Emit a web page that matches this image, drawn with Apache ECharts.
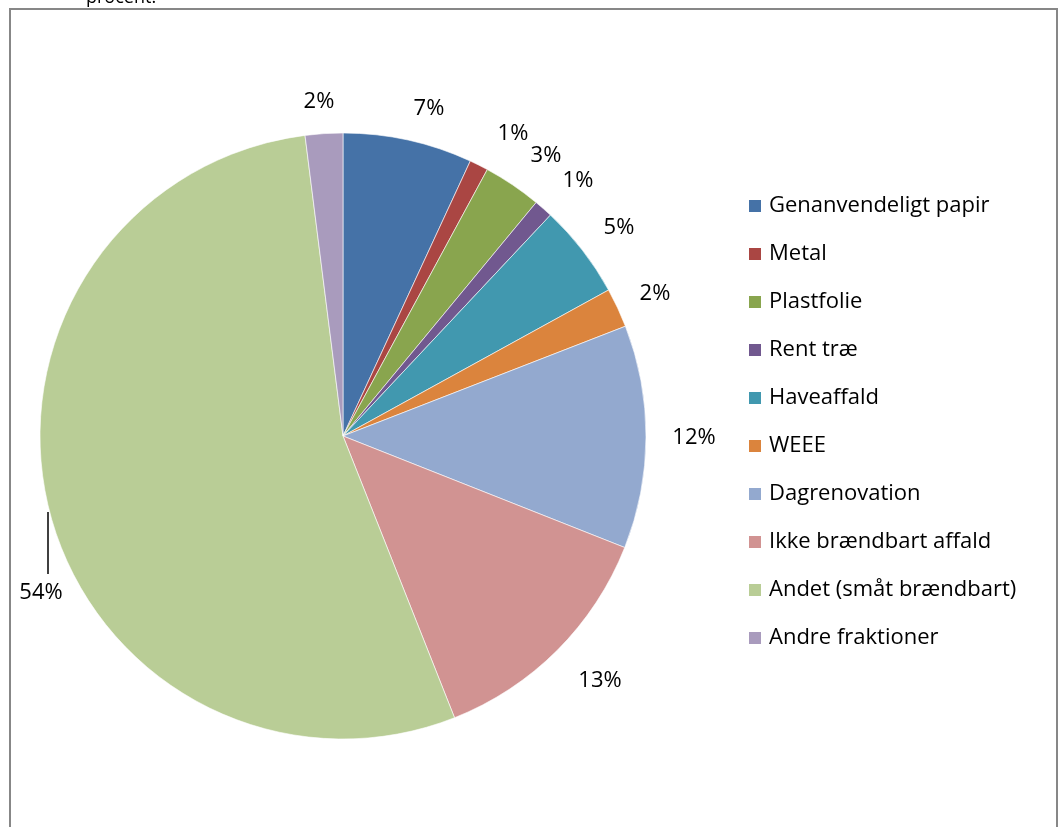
<!DOCTYPE html>
<html>
<head>
<meta charset="utf-8">
<script src="https://cdn.jsdelivr.net/npm/echarts@6/dist/echarts.min.js"></script>
<style>
html,body{margin:0;padding:0;background:#fff;}
#chart{width:1058px;height:827px;}
</style>
</head>
<body>
<div id="chart"></div>
<script>
const categories = ['Genanvendeligt papir','Metal','Plastfolie','Rent træ','Haveaffald','WEEE','Dagrenovation','Ikke brændbart affald','Andet (småt brændbart)','Andre fraktioner'];
const values = [6.9, 1.0, 3.1, 1.0, 5.0, 2.1, 11.9, 13.0, 54.0, 2.0];
const percentLabels = ['7%','1%','3%','1%','5%','2%','12%','13%','54%','2%'];
const colors = ['#4572A7','#AA4643','#89A54E','#71588F','#4198AF','#DB843D','#93A9CF','#D19392','#B9CD96','#A99BBD'];
// label centre positions (page pixels)
const labelPos = [[429,109],[513,134],[546,156],[578,181],[619,228],[655,294],[694,438],[600,681],[41,593],[319,102]];

const FONT = 'Open Sans';
const chart = echarts.init(document.getElementById('chart'));
chart.setOption({
  animation: false,
  color: colors,
  graphic: [
    { type: 'rect', shape: { x: 10, y: 9, width: 1047, height: 830 },
      style: { fill: 'none', stroke: '#878787', lineWidth: 2 }, z: -1 },
    { type: 'text', x: 86, y: -2,
      style: { text: 'procent.', font: '18px "Open Sans"', fill: '#000', verticalAlign: 'middle' } }
  ],
  legend: {
    orient: 'vertical',
    left: 747, top: 194,
    padding: 0,
    itemWidth: 14, itemHeight: 14, itemGap: 24,
    icon: 'rect',
    textStyle: { fontFamily: FONT, fontSize: 22, color: '#000', lineHeight: 24, padding: [0,0,0,2] },
    data: categories
  },
  series: [{
    type: 'pie',
    center: [343, 436],
    radius: 303,
    startAngle: 90,
    clockwise: true,
    avoidLabelOverlap: false,
    itemStyle: { borderColor: '#fff', borderWidth: 0.6 },
    label: {
      show: true,
      position: 'outside',
      fontFamily: FONT, fontSize: 22, color: '#000',
      formatter: p => percentLabels[p.dataIndex]
    },
    labelLine: { show: false },
    labelLayout: function (params) {
      const i = params.dataIndex;
      const r = { x: labelPos[i][0], y: labelPos[i][1], align: 'center', verticalAlign: 'middle' };
      if (i === 8) r.labelLinePoints = [[48, 512], [48, 540], [48, 574]];
      return r;
    },
    data: categories.map((c, i) => ({
      name: c, value: values[i],
      labelLine: i === 8 ? { show: true, lineStyle: { color: '#000', width: 1.5 } } : { show: false }
    }))
  }]
});
</script>
</body>
</html>
